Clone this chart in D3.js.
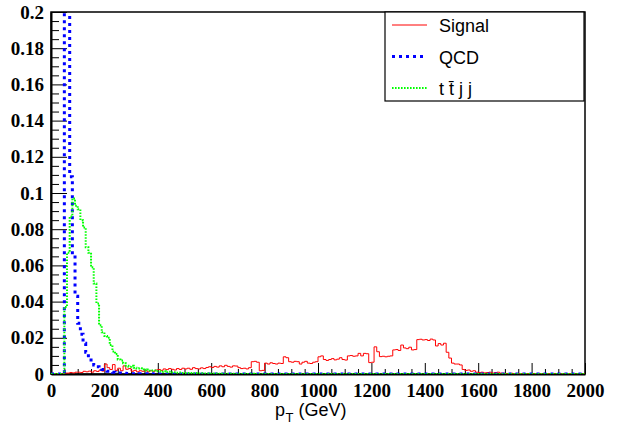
<!DOCTYPE html>
<html>
<head>
<meta charset="utf-8">
<script src="https://cdn.jsdelivr.net/npm/d3@7"></script>
<style>
  body { margin: 0; background: #fff; }
  svg { display: block; }
</style>
</head>
<body>
<div id="chart"></div>
<script>
// bins of 10 GeV from 0 to 2000
var binWidth = 10;

var signal = [
  0,0,0,0,0,0.0005,0.0005,0.0008,0.0006,0.001,
  0.001,0.0008,0.0015,0.0012,0.0016,0.001,0.0018,0.0014,0.0022,0.0016,
  0.0055,0.0035,0.0025,0.0052,0.002,0.0032,0.0018,0.0045,0.0026,0.003,
  0.0015,0.002,0.0012,0.0018,0.0015,0.002,0.0012,0.0018,0.0015,0.0022,
  0.0025,0.002,0.0028,0.0024,0.003,0.0026,0.0022,0.003,0.0025,0.0032,
  0.0028,0.0032,0.0026,0.0035,0.003,0.0028,0.0034,0.003,0.0036,0.004,
  0.0036,0.0042,0.0038,0.0045,0.004,0.0048,0.0042,0.0038,0.0045,0.0044,
  0.0035,0.003,0.0032,0.0028,0.0035,0.0068,0.007,0.0065,0.0018,0.002,
  0.006,0.0055,0.0062,0.0058,0.0055,0.006,0.0058,0.0095,0.009,0.0068,
  0.0065,0.007,0.0068,0.0055,0.0065,0.007,0.006,0.0058,0.0065,0.0068,
  0.0095,0.01,0.008,0.0075,0.008,0.0085,0.0078,0.0082,0.009,0.008,
  0.0077,0.01,0.0102,0.0098,0.01,0.0114,0.01,0.0114,0.0112,0.0063,
  0.0065,0.015,0.0123,0.0096,0.0098,0.0095,0.0098,0.01,0.0133,0.0135,
  0.013,0.016,0.0144,0.014,0.0148,0.0133,0.0135,0.019,0.0192,0.0188,
  0.019,0.0185,0.0193,0.0188,0.0155,0.0168,0.016,0.017,0.012,0.0088,
  0.006,0.0055,0.0055,0.005,0.0025,0.002,0.0022,0.0015,0.0018,0.001,
  0.0008,0.001,0.0006,0.0008,0.001,0.0005,0.0008,0.001,0.0005,0.0004,
  0.0003,0.0002,0.0004,0.0002,0.0001,0.0003,0.0002,0.0001,0.0002,0.0001,
  0.0001,0.0002,0.0003,0.0001,0,0.0001,0.0002,0,0.0001,0,
  0,0.0001,0,0,0.0002,0,0,0,0,0
];

var qcd = [
  0,0,0,0,0,0.32,0.28,0.109,0.067,0.043,
  0.028,0.022,0.017,0.012,0.009,0.0066,0.005,0.004,0.003,0.0025,
  0.002,0.0015,0.0012,0.001,0.0008,0.0006,0.0005,0.0004,0.0003,0.0003,
  0.0002,0.0002,0.0001,0.0002,0.0001,0.0001,0,0.0001,0,0.0001,
  0,0,0,0,0,0,0,0,0,0,
  0,0,0,0,0,0,0,0,0,0,
  0,0,0,0,0,0,0,0,0,0,
  0,0,0,0,0,0,0,0,0,0,
  0,0,0,0,0,0,0,0,0,0,
  0,0,0,0,0,0,0,0,0,0,
  0,0,0,0,0,0,0,0,0,0,
  0,0,0,0,0,0,0,0,0,0,
  0,0,0,0,0,0,0,0,0,0,
  0,0,0,0,0,0,0,0,0,0,
  0,0,0,0,0,0,0,0,0,0,
  0,0,0,0,0,0,0,0,0,0,
  0,0,0,0,0,0,0,0,0,0,
  0,0,0,0,0,0,0,0,0,0,
  0,0,0,0,0,0,0,0,0,0,
  0,0,0,0,0,0,0,0,0,0
];

var ttjj = [
  0,0,0,0,0,0.037,0.067,0.087,0.097,0.093,
  0.091,0.085,0.081,0.07,0.067,0.059,0.05,0.039,0.027,0.023,
  0.021,0.02,0.016,0.0125,0.011,0.008,0.0075,0.006,0.0045,0.004,
  0.0045,0.0035,0.003,0.0032,0.0025,0.002,0.0025,0.0018,0.002,0.0015,
  0.0015,0.0012,0.0015,0.001,0.0012,0.0008,0.001,0.0007,0.0008,0.0006,
  0.0006,0.0005,0.0006,0.0004,0.0005,0.0003,0.0004,0.0003,0.0003,0.0002,
  0.0002,0.0003,0.0002,0.0001,0.0002,0.0001,0.0001,0.0002,0.0001,0,
  0.0001,0,0.0001,0,0,0.0001,0,0,0,0,
  0,0,0,0,0,0,0,0,0,0,
  0,0,0,0,0,0,0,0,0,0,
  0,0,0,0,0,0,0,0,0,0,
  0,0,0,0,0,0,0,0,0,0,
  0,0,0,0,0,0,0,0,0,0,
  0,0,0,0,0,0,0,0,0,0,
  0,0,0,0,0,0,0,0,0,0,
  0,0,0,0,0,0,0,0,0,0,
  0,0,0,0,0,0,0,0,0,0,
  0,0,0,0,0,0,0,0,0,0,
  0,0,0,0,0,0,0,0,0,0,
  0,0,0,0,0,0,0,0,0,0
];

var seriesNames = ["Signal", "QCD", "t t\u0304 j j"];

var xTicks = [0,200,400,600,800,1000,1200,1400,1600,1800,2000];
var yTicks = [0,0.02,0.04,0.06,0.08,0.1,0.12,0.14,0.16,0.18,0.2];
var yTickLabels = ["0","0.02","0.04","0.06","0.08","0.1","0.12","0.14","0.16","0.18","0.2"];

var chart_width = 628;
var chart_height = 431;
var frame_left = 51, frame_right = 585, frame_top = 12, frame_bottom = 374;

var styles = [
  {color: "#ff0000", width: 1, dash: null},
  {color: "#0000ff", width: 3, dash: "3,4"},
  {color: "#00ff00", width: 2, dash: "1.6,1.4"}
];

var svg = d3.select("#chart").append("svg")
            .attr("width", chart_width)
            .attr("height", chart_height);

var x = d3.scaleLinear().domain([0, 2000]).range([frame_left, frame_right]);
var y = d3.scaleLinear().domain([0, 0.2]).range([frame_bottom, frame_top]);

svg.append("clipPath").attr("id", "frameclip")
   .append("rect")
   .attr("x", frame_left).attr("y", frame_top)
   .attr("width", frame_right - frame_left)
   .attr("height", frame_bottom - frame_top);

// frame
svg.append("rect")
   .attr("x", frame_left).attr("y", frame_top)
   .attr("width", frame_right - frame_left)
   .attr("height", frame_bottom - frame_top)
   .attr("fill", "none").attr("stroke", "#000").attr("stroke-width", 1.5);

function minorTicks(major, n){
  var out = [];
  for (var i = 0; i < major.length - 1; i++){
    var step = (major[i+1] - major[i]) / n;
    for (var k = 1; k < n; k++) out.push(major[i] + k*step);
  }
  return out;
}

function styleAxis(g){
  g.select(".domain").attr("stroke-width", 2);
  g.selectAll(".tick line").attr("stroke-width", 1);
  g.selectAll("text")
   .attr("font-family", "'Liberation Serif', 'Times New Roman', serif")
   .attr("font-weight", "bold")
   .attr("font-size", 19)
   .attr("fill", "#000");
}

// y axis
svg.append("g")
   .attr("transform", "translate(" + frame_left + ",0)")
   .call(d3.axisLeft(y).tickValues(minorTicks(yTicks, 4)).tickSize(-8).tickFormat(""))
   .call(function(g){ g.select(".domain").remove(); });

svg.append("g")
   .attr("transform", "translate(" + frame_left + ",0)")
   .call(d3.axisLeft(y).tickValues(yTicks).tickSize(-16).tickSizeOuter(0)
           .tickPadding(7).tickFormat(function(d, i){ return yTickLabels[i]; }))
   .call(styleAxis);

// x axis
svg.append("g")
   .attr("transform", "translate(0," + frame_bottom + ")")
   .call(d3.axisBottom(x).tickValues(minorTicks(xTicks, 4)).tickSize(-5).tickFormat(""))
   .call(function(g){ g.select(".domain").remove(); });

svg.append("g")
   .attr("transform", "translate(0," + frame_bottom + ")")
   .call(d3.axisBottom(x).tickValues(xTicks).tickSize(-11).tickSizeOuter(0)
           .tickPadding(9.5).tickFormat(d3.format("d")))
   .call(styleAxis);

// histograms
function stepPoints(values){
  var pts = [[0, 0]];
  values.forEach(function(v, i){
    pts.push([i*binWidth, v]);
    pts.push([(i+1)*binWidth, v]);
  });
  pts.push([values.length*binWidth, 0]);
  return pts;
}

var line = d3.line()
             .x(function(d){ return x(d[0]); })
             .y(function(d){ return y(d[1]); });

var plot = svg.append("g").attr("clip-path", "url(#frameclip)");

[signal, qcd, ttjj].forEach(function(values, i){
  plot.append("path")
      .attr("d", line(stepPoints(values)))
      .attr("fill", "none")
      .attr("stroke", styles[i].color)
      .attr("stroke-width", styles[i].width)
      .attr("stroke-dasharray", styles[i].dash);
});

// x title
var xtitle = svg.append("text")
   .attr("x", 275).attr("y", 416)
   .attr("font-family", "'Liberation Sans', Arial, sans-serif")
   .attr("font-size", 18)
   .attr("fill", "#000");
xtitle.append("tspan").text("p");
xtitle.append("tspan").attr("font-size", 13).attr("dy", 6).attr("dx", 0.5).text("T");
xtitle.append("tspan").attr("dy", -6).text(" (GeV)");

// legend
var legend = svg.append("g");
legend.append("rect")
      .attr("x", 385).attr("y", 12)
      .attr("width", 199).attr("height", 89)
      .attr("fill", "#fff").attr("stroke", "#000").attr("stroke-width", 1.2);

seriesNames.forEach(function(name, i){
  var ly = 25 + i*31.5;
  legend.append("line")
        .attr("x1", 392).attr("x2", 427)
        .attr("y1", ly).attr("y2", ly)
        .attr("stroke", styles[i].color)
        .attr("stroke-width", styles[i].width)
        .attr("stroke-dasharray", styles[i].dash);
  legend.append("text")
        .attr("x", 439).attr("y", ly + 7)
        .attr("font-family", "'Liberation Sans', Arial, sans-serif")
        .attr("font-size", 18)
        .attr("fill", "#000")
        .text(name);
});
</script>
</body>
</html>
